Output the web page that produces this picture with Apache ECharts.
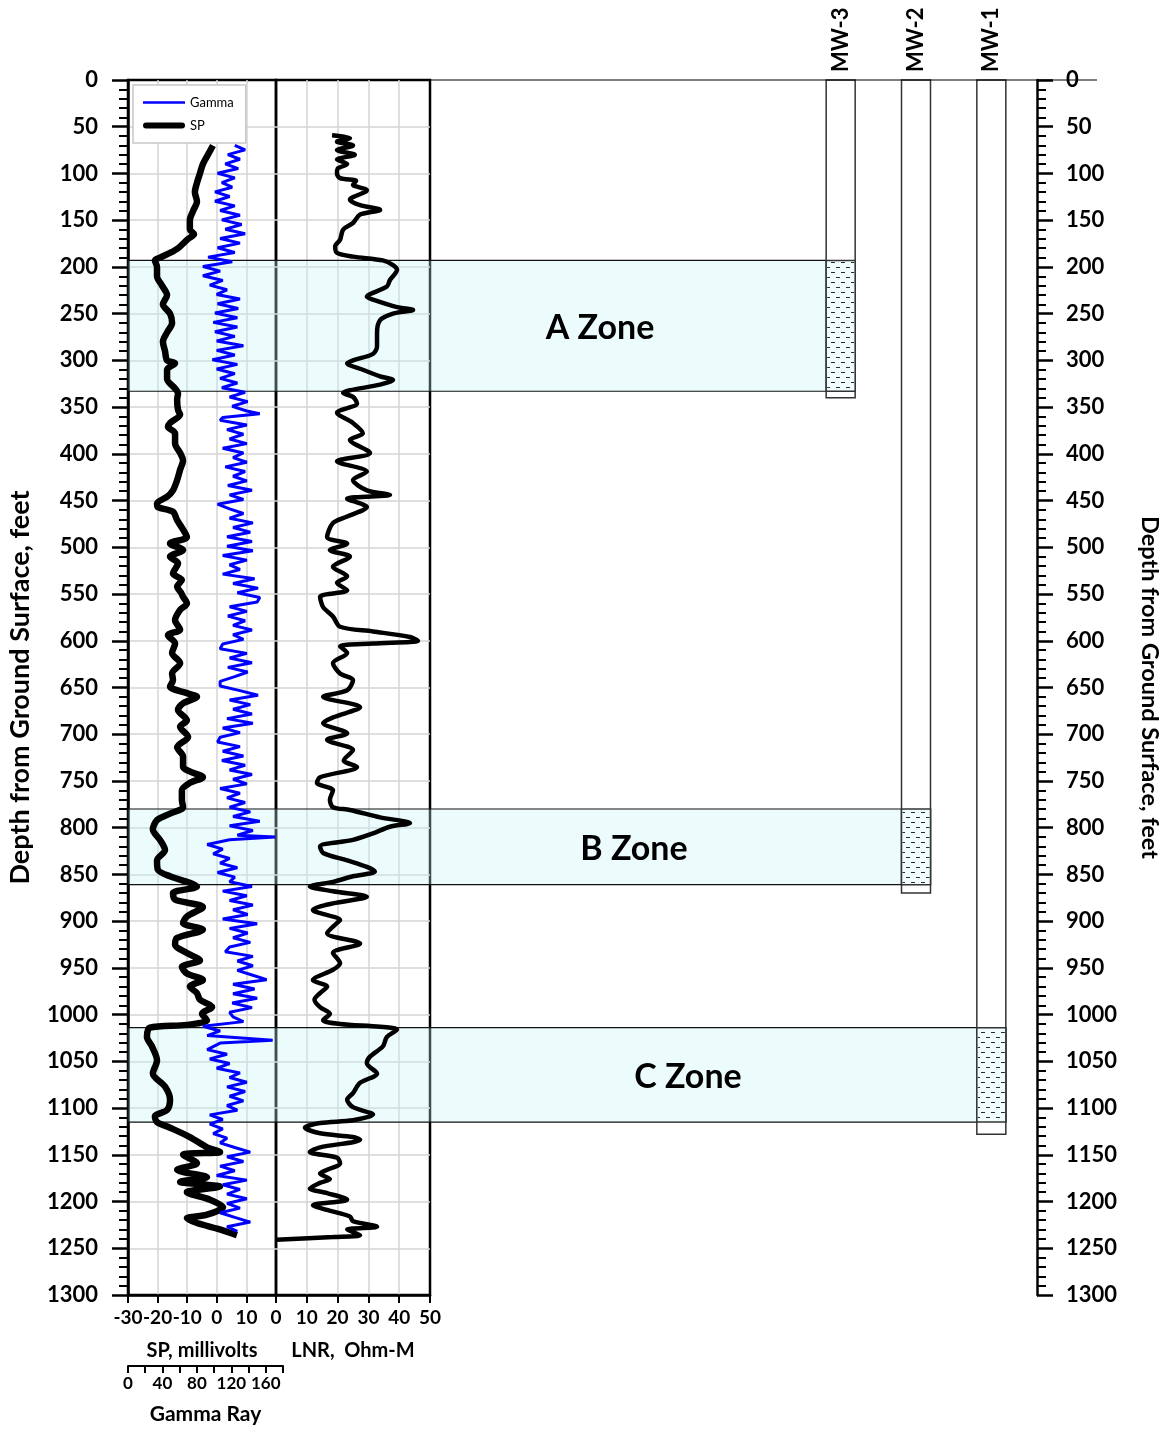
<!DOCTYPE html>
<html><head><meta charset="utf-8">
<script src="https://cdn.jsdelivr.net/npm/echarts@6/dist/echarts.min.js"></script>
<style>html,body{margin:0;padding:0;background:#fff}#c{width:1167px;height:1430px}</style>
</head><body><div id="c"></div>
<script>
// ---------------- DATA ----------------
const SP_DEPTH = [70,80,90,100,110,120,130,140,150,160,165,170,180,185,190,193,200,210,220,230,240,250,260,270,280,290,300,303,310,320,330,335,342,353,358,367,371,378,389,399,407,417,428,439,446,453,457,462,471,481,489,496,503,510,517,528,535,542,549,553,560,567,578,588,594,603,613,624,635,642,649,656,660,667,674,685,692,703,714,724,735,740,746,752,760,770,778,785,792,802,813,824,835,845,852,859,863,870,877,885,895,902,909,918,925,934,942,949,956,963,970,977,984,992,999,1006,1011,1014,1024,1034,1049,1063,1077,1091,1102,1109,1115,1121,1131,1142,1147,1150,1159,1166,1174,1179,1184,1190,1198,1206,1214,1218,1223,1229,1236];
const SP_MV = [-1.3,-3.0,-4.7,-5.7,-6.7,-7.4,-6.7,-8.0,-9.1,-9.1,-7.7,-9.7,-13.1,-15.8,-19.2,-20.9,-20.2,-20.2,-18.5,-16.8,-18.2,-15.8,-15.1,-16.8,-18.2,-17.5,-16.8,-14.1,-16.8,-16.8,-14.1,-13.1,-13.4,-13.1,-12.4,-15.8,-16.5,-14.1,-14.1,-12.4,-11.4,-12.4,-13.4,-14.8,-16.8,-20.2,-19.9,-14.8,-13.4,-11.4,-10.1,-15.8,-11.4,-15.8,-13.1,-14.8,-11.8,-13.4,-12.0,-11.4,-10.1,-12.4,-14.1,-12.4,-16.5,-14.1,-15.1,-12.4,-15.1,-14.8,-15.8,-10.1,-6.7,-11.4,-13.1,-10.1,-12.4,-9.7,-13.4,-11.4,-11.4,-9.0,-4.7,-9.1,-11.8,-11.8,-11.4,-15.8,-20.2,-21.6,-19.2,-17.5,-20.2,-19.9,-15.8,-9.1,-6.7,-14.8,-14.1,-4.7,-10.1,-11.4,-4.7,-13.4,-14.1,-10.1,-5.7,-11.8,-10.1,-4.7,-9.1,-6.7,-5.7,-1.6,-5.0,-3.3,-10.1,-22.6,-23.6,-21.9,-20.2,-21.6,-17.5,-15.8,-16.8,-20.9,-20.2,-15.8,-9.1,-3.3,1.1,-11.4,-6.7,-13.4,-3.3,-12.4,1.1,-10.1,-2.3,2.1,-3.3,-10.1,-6.7,0.1,6.8];

const GR_DEPTH = [70,75,80,85,90,95,100,105,110,115,120,125,130,135,140,145,150,155,160,165,170,175,180,185,190,195,200,205,210,215,220,225,230,235,240,245,250,255,260,265,270,275,280,285,290,295,300,305,310,315,320,325,330,335,340,345,350,355,358,362,365,370,375,380,385,390,395,400,405,410,415,420,425,430,435,440,445,450,455,460,465,470,475,480,485,490,495,500,505,510,515,520,525,530,535,540,545,550,555,560,565,570,575,580,585,590,595,600,605,610,615,620,625,630,635,640,645,650,655,660,665,670,675,680,685,690,695,700,705,710,715,720,725,730,735,740,745,750,755,760,765,770,775,780,785,790,795,800,805,810,812,815,820,825,830,835,840,845,850,855,860,865,870,875,880,885,890,895,900,905,910,915,920,925,930,935,940,945,950,955,960,965,970,975,980,985,990,995,1000,1005,1010,1015,1020,1025,1030,1033,1040,1045,1050,1055,1060,1065,1070,1075,1080,1085,1090,1095,1100,1105,1110,1115,1120,1125,1130,1135,1140,1145,1150,1155,1160,1165,1170,1175,1180,1185,1190,1195,1200,1205,1210,1215,1220,1225,1230,1235];
const GR_API = [124,136,116,130,113,128,104,124,109,121,101,118,101,124,107,130,109,132,113,136,107,130,104,124,93,121,87,107,87,110,95,115,103,130,104,128,101,127,99,127,101,124,103,134,103,124,98,127,103,124,107,127,109,136,118,139,121,138,153,110,107,138,115,134,118,138,110,134,122,138,113,136,122,138,116,144,118,134,104,118,134,118,145,122,142,115,144,115,145,110,138,118,130,110,147,122,151,127,153,150,118,138,116,136,122,144,122,134,110,107,138,118,144,116,139,124,107,107,130,151,118,142,122,144,115,145,110,130,107,104,130,110,134,109,136,118,144,122,138,107,130,115,136,118,142,122,153,118,145,127,171,118,92,110,99,118,107,127,104,124,118,144,110,138,118,145,122,139,110,150,118,139,122,142,118,113,145,127,145,127,144,161,122,147,122,150,121,144,118,122,134,87,107,92,168,107,92,115,95,118,103,130,118,138,115,136,118,134,115,127,95,110,95,110,99,115,107,124,142,115,134,107,124,103,138,110,130,115,138,115,130,107,124,142,115,127];

const LNR_DEPTH = [59,62,66,70,75,80,85,90,95,100,105,108,112,118,128,134,139,144,153,160,171,178,185,189,193,198,203,214,221,232,235,243,246,250,257,271,285,293,300,303,310,317,321,326,332,335,339,346,356,367,378,385,399,408,419,428,439,444,448,457,467,474,489,496,503,510,521,531,538,546,553,564,574,585,590,596,600,603,606,613,624,635,642,653,660,671,682,688,699,706,717,728,735,746,752,760,770,778,781,789,795,799,806,813,820,827,835,842,847,852,858,863,868,874,881,888,899,902,913,924,934,945,952,963,970,977,984,992,999,1006,1010,1013,1016,1024,1034,1045,1052,1063,1073,1084,1091,1099,1107,1113,1116,1121,1127,1131,1134,1142,1147,1153,1159,1166,1170,1176,1180,1186,1191,1198,1204,1209,1216,1221,1227,1230,1236,1238,1241];
const LNR_OHM = [18.2,24.0,19.8,25.0,19.8,25.6,19.8,23.1,20.0,19.8,20.8,26.0,25.0,29.5,24.0,27.3,33.8,27.3,25.0,21.8,20.8,19.2,19.8,25.0,34.7,38.0,39.3,37.0,36.0,29.5,31.5,39.3,44.5,38.0,33.8,32.8,32.8,31.5,25.0,23.1,28.2,33.8,38.0,33.8,24.0,21.8,25.0,26.3,19.8,25.0,28.2,24.0,30.5,19.8,29.5,25.0,29.5,37.0,23.1,29.5,23.1,18.5,16.6,23.1,17.5,24.0,18.5,23.1,19.8,23.1,14.3,15.3,18.5,20.8,31.5,43.5,46.1,31.5,20.8,23.1,18.5,20.8,25.0,23.1,15.3,27.3,18.5,15.3,23.1,16.6,25.0,22.0,26.3,14.3,13.3,18.5,17.5,18.5,24.0,33.8,43.5,37.0,31.5,25.0,14.3,15.3,23.1,29.5,32.1,25.0,18.5,11.0,18.5,29.5,18.5,12.0,20.8,19.8,16.6,27.3,18.5,20.8,18.5,12.0,16.6,14.3,12.5,14.3,17.5,15.3,20.8,33.8,39.3,36.0,34.7,30.5,29.5,32.8,27.3,25.0,23.1,25.0,31.5,25.0,14.3,9.4,14.3,25.0,27.3,14.3,11.0,19.8,20.8,16.6,14.3,17.5,14.3,11.0,16.6,23.1,12.0,16.6,24.0,25.0,32.8,23.1,27.3,18.5,0];

const WELL_NAMES = ['MW-3','MW-2','MW-1'];
const WELL_TD = [340, 870, 1128];
const SCREEN_TOP = [193, 780, 1014];
const SCREEN_BOTTOM = [333, 861, 1115];

const ZONE_NAMES = ['A Zone','B Zone','C Zone'];
const ZONE_TOP = [193, 780, 1014];
const ZONE_BOTTOM = [333, 861, 1115];
const ZONE_WELL = [0, 1, 2];

const DEPTH_MIN = 0, DEPTH_MAX = 1300, DEPTH_STEP = 50;
const SP_MIN = -30, SP_MAX = 20, SP_STEP = 10;
const GR_MIN = 0, GR_MAX = 180, GR_STEP = 20, GR_LABEL_STEP = 40;
const LNR_MIN = 0, LNR_MAX = 50, LNR_STEP = 10;

// ---------------- LAYOUT ----------------
const TOP = 80, H = 1215;
const SP_L = 128, SP_W = 148;
const GR_W = 155;
const LNR_L = 276, LNR_W = 154;
const WELL_L = 803, WELL_W = 226;
const WELL_BOX_W = 29;
const ZONE_LABEL_X = [600, 634, 688];
const FONT = 'Lato, "Open Sans", sans-serif';
const GRID_GRAY = '#d4d4d4';

const pc = document.createElement('canvas');
pc.width = 10; pc.height = 10;
const pctx = pc.getContext('2d');
pctx.fillStyle = '#2a2a2a';
pctx.fillRect(1, 2, 4, 1);
pctx.fillRect(6, 7, 4, 1);

const pairs = (d, v) => d.map((y, i) => [v[i], y]);

const depthBase = {type: 'value', min: DEPTH_MIN, max: DEPTH_MAX, interval: DEPTH_STEP, inverse: true};
const boldLabel = (size) => ({fontFamily: FONT, fontWeight: 'bold', fontSize: size, color: '#000'});
const split = {show: true, showMinLine: false, showMaxLine: false, lineStyle: {color: GRID_GRAY, width: 1.5}};
const blackLine = (w) => ({show: true, onZero: false, lineStyle: {color: '#000', width: w}});

const chart = echarts.init(document.getElementById('c'), null, {renderer: 'canvas'});
chart.setOption({
  animation: false,
  backgroundColor: '#fff',
  grid: [
    {left: SP_L, top: TOP, width: SP_W, height: H, show: true, borderColor: '#000', borderWidth: 2.5, backgroundColor: 'transparent'},
    {left: SP_L, top: TOP, width: GR_W, height: H, show: false},
    {left: LNR_L, top: TOP, width: LNR_W, height: H, show: true, borderColor: '#000', borderWidth: 2.5, backgroundColor: 'transparent'},
    {left: WELL_L, top: TOP, width: WELL_W, height: H, show: false}
  ],
  xAxis: [
    {gridIndex: 0, type: 'value', min: SP_MIN, max: SP_MAX, interval: SP_STEP, position: 'bottom',
      axisLine: blackLine(2.5),
      axisTick: {show: true, length: 8, lineStyle: {color: '#000', width: 2}},
      axisLabel: Object.assign({margin: 13, showMinLabel: true, hideOverlap: false, formatter: v => v === SP_MAX ? '' : String(v)}, boldLabel(19)),
      splitLine: split,
      name: 'SP, millivolts', nameLocation: 'middle', nameGap: 46, nameTextStyle: boldLabel(20)},
    {gridIndex: 1, type: 'value', min: GR_MIN, max: GR_MAX, interval: GR_STEP, position: 'bottom', offset: 74,
      axisLine: blackLine(2),
      axisTick: {show: true, length: 7, lineStyle: {color: '#000', width: 2}},
      axisLabel: Object.assign({margin: 9, showMinLabel: true, hideOverlap: false, formatter: v => (v % GR_LABEL_STEP === 0 && v < GR_MAX) ? String(v) : ''}, boldLabel(17)),
      splitLine: {show: false},
      name: 'Gamma Ray', nameLocation: 'middle', nameGap: 38, nameTextStyle: boldLabel(21)},
    {gridIndex: 2, type: 'value', min: LNR_MIN, max: LNR_MAX, interval: LNR_STEP, position: 'bottom',
      axisLine: blackLine(2.5),
      axisTick: {show: true, length: 8, lineStyle: {color: '#000', width: 2}},
      axisLabel: Object.assign({margin: 13, showMinLabel: true, showMaxLabel: true, hideOverlap: false}, boldLabel(19)),
      splitLine: split,
      name: 'LNR,  Ohm-M', nameLocation: 'middle', nameGap: 46, nameTextStyle: boldLabel(20)},
    {gridIndex: 3, type: 'category', data: WELL_NAMES, position: 'top', boundaryGap: true,
      axisLine: {show: false}, axisTick: {show: false},
      axisLabel: Object.assign({rotate: 90, margin: 8}, boldLabel(22)),
      splitLine: {show: false}}
  ],
  yAxis: [
    Object.assign({gridIndex: 0, position: 'left',
      axisLine: blackLine(2.5),
      axisTick: {show: true, length: 16, lineStyle: {color: '#000', width: 2.5}},
      minorTick: {show: true, splitNumber: 5, length: 9, lineStyle: {color: '#000', width: 2}},
      axisLabel: Object.assign({margin: 30, showMinLabel: true, showMaxLabel: true, hideOverlap: false, formatter: v => String(v)}, boldLabel(22)),
      splitLine: split,
      name: 'Depth from Ground Surface, feet', nameLocation: 'middle', nameRotate: 90, nameGap: 94,
      nameTextStyle: boldLabel(27)}, depthBase),
    Object.assign({gridIndex: 1, show: false, axisLine: {show: false, onZero: false}}, depthBase),
    Object.assign({gridIndex: 2, axisLine: {show: false, onZero: false}, axisTick: {show: false}, axisLabel: {show: false},
      splitLine: split}, depthBase),
    Object.assign({gridIndex: 3, position: 'right', offset: 8,
      axisLine: blackLine(2.5),
      axisTick: {show: true, length: 16, lineStyle: {color: '#000', width: 2.5}},
      minorTick: {show: true, splitNumber: 5, length: 9, lineStyle: {color: '#000', width: 2}},
      axisLabel: Object.assign({margin: 29, showMinLabel: true, showMaxLabel: true, hideOverlap: false, formatter: v => String(v)}, boldLabel(22)),
      splitLine: {show: false},
      name: 'Depth from Ground Surface, feet', nameLocation: 'middle', nameRotate: -90, nameGap: 101,
      nameTextStyle: boldLabel(23.5)}, depthBase)
  ],
  legend: {
    data: [
      {name: 'Gamma', icon: 'path://M0,0h42v2.5h-42z'},
      {name: 'SP', icon: 'path://M3,0h36a3,3 0 0 1 0,6h-36a3,3 0 0 1 0,-6z'}
    ],
    orient: 'vertical', left: SP_L + 5, top: TOP + 5,
    itemWidth: 42, itemHeight: 12, itemGap: 10, padding: [11, 12, 11, 10],
    backgroundColor: '#fff', borderColor: '#c8c8c8', borderWidth: 1.5, borderRadius: 0,
    textStyle: {fontFamily: FONT, fontSize: 13, color: '#000'}, z: 10
  },
  graphic: [
    {type: 'line', shape: {x1: LNR_L + LNR_W, y1: TOP, x2: 1097, y2: TOP}, style: {stroke: '#000', lineWidth: 1.2}, z: 5}
  ],
  series: [
    {type: 'custom', name: 'zones', xAxisIndex: 3, yAxisIndex: 3, z: 1, clip: false, silent: true,
      data: ZONE_NAMES.map((n, i) => [ZONE_WELL[i], ZONE_TOP[i], ZONE_BOTTOM[i], i]),
      renderItem: (params, api) => {
        const i = api.value(3);
        const a = api.coord([api.value(0), api.value(1)]);
        const b = api.coord([api.value(0), api.value(2)]);
        const right = a[0] + WELL_BOX_W / 2;
        return {type: 'group', children: [
          {type: 'rect', shape: {x: SP_L, y: a[1], width: right - SP_L, height: b[1] - a[1]},
            style: {fill: 'rgba(195,246,250,0.32)', stroke: '#111', lineWidth: 1.2}},
          {type: 'text', style: {text: ZONE_NAMES[i], x: ZONE_LABEL_X[i], y: (a[1] + b[1]) / 2 + 2,
            align: 'center', verticalAlign: 'middle', font: 'bold 34px ' + FONT, fill: '#000'}}
        ]};
      }},
    {type: 'custom', name: 'wells', xAxisIndex: 3, yAxisIndex: 3, z: 2, clip: false, silent: true,
      data: WELL_NAMES.map((n, i) => [i, WELL_TD[i], SCREEN_TOP[i], SCREEN_BOTTOM[i]]),
      renderItem: (params, api) => {
        const t = api.coord([api.value(0), DEPTH_MIN]);
        const td = api.coord([api.value(0), api.value(1)]);
        const st = api.coord([api.value(0), api.value(2)]);
        const sb = api.coord([api.value(0), api.value(3)]);
        const x = t[0] - WELL_BOX_W / 2;
        return {type: 'group', children: [
          {type: 'rect', shape: {x: x, y: t[1], width: WELL_BOX_W, height: td[1] - t[1]},
            style: {fill: '#fff', stroke: '#333', lineWidth: 1.5}},
          {type: 'rect', shape: {x: x, y: st[1], width: WELL_BOX_W, height: sb[1] - st[1]},
            style: {fill: '#f0fcfd', stroke: '#333', lineWidth: 1.5}},
          {type: 'rect', shape: {x: x + 1, y: st[1] + 1, width: WELL_BOX_W - 2, height: sb[1] - st[1] - 2},
            style: {fill: {image: pc, repeat: 'repeat'}}}
        ]};
      }},
    {type: 'line', name: 'SP', xAxisIndex: 0, yAxisIndex: 0, z: 3, data: pairs(SP_DEPTH, SP_MV),
      symbol: 'none', showSymbol: false, smooth: 0.3, lineStyle: {color: '#000', width: 6.5}, itemStyle: {color: '#000'}},
    {type: 'line', name: 'Gamma', xAxisIndex: 1, yAxisIndex: 1, z: 4, data: pairs(GR_DEPTH, GR_API),
      symbol: 'none', showSymbol: false, lineStyle: {color: '#0000ff', width: 3}, itemStyle: {color: '#0000ff'}},
    {type: 'line', name: 'LNR', xAxisIndex: 2, yAxisIndex: 2, z: 3, data: pairs(LNR_DEPTH, LNR_OHM),
      symbol: 'none', showSymbol: false, smooth: 0.3, lineStyle: {color: '#000', width: 4.5}, itemStyle: {color: '#000'}}
  ]
});
</script>
</body></html>
